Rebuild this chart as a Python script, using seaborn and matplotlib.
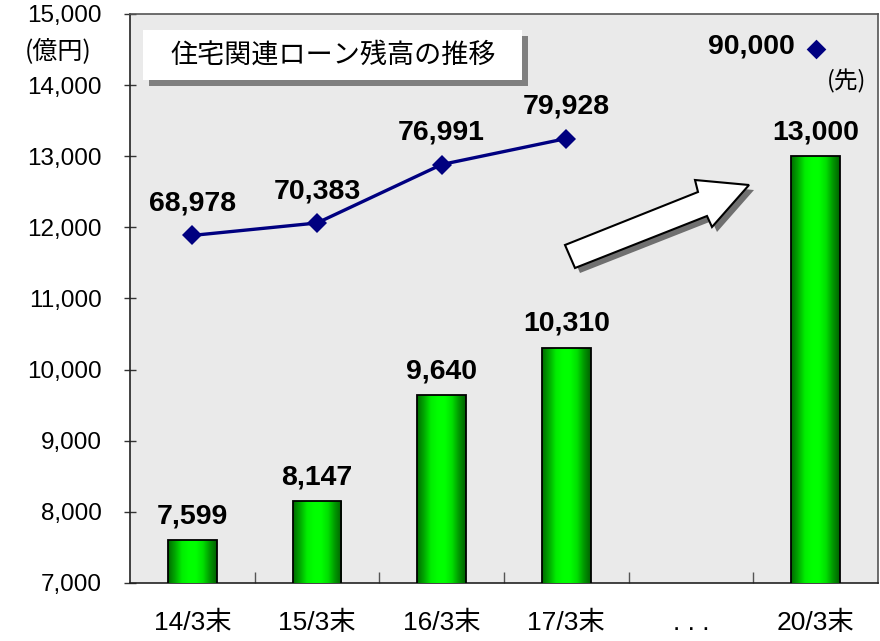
import numpy as np
import pandas as pd
import matplotlib
matplotlib.use("Agg")
import matplotlib.pyplot as plt
import seaborn as sns
from matplotlib.patches import Polygon, Rectangle
from matplotlib.colors import LinearSegmentedColormap

# --- data -------------------------------------------------------------
periods = ["14/3末", "15/3末", "16/3末", "17/3末", ". . .", "20/3末"]
balance = [7599, 8147, 9640, 10310, np.nan, 13000]        # 住宅関連ローン残高（億円）
loans = [68978, 70383, 76991, 79928, np.nan, 90000]        # 件数（右側の非表示スケール）
y_ticks = [7000, 8000, 9000, 10000, 11000, 12000, 13000, 14000, 15000]
title_text = "住宅関連ローン残高の推移"
unit_text = "(億円)"
forecast_text = "(先)"

# --- style ------------------------------------------------------------
sns.set_theme(style="white")
plt.rcParams["font.family"] = ["Liberation Sans", "Noto Sans CJK JP"]
plt.rcParams["text.color"] = "black"
plt.rcParams["xtick.color"] = "black"
plt.rcParams["ytick.color"] = "black"

W, H = 880, 641
fig = plt.figure(figsize=(W / 100, H / 100), dpi=100)
ax = fig.add_axes([130 / W, 58 / H, 748 / W, 569 / H])
ax.set_facecolor("#eaeaea")

df = pd.DataFrame({"period": periods, "pos": range(len(periods)),
                   "balance": balance, "loans": loans})

Y_MIN, Y_MAX = 7000, 15000

# bars
sns.barplot(data=df, x="period", y="balance", order=periods, width=0.39,
            color="#00ff00", edgecolor="black", linewidth=1.3, ax=ax,
            zorder=3)

# horizontal green shading inside every bar
green = LinearSegmentedColormap.from_list(
    "bar_green",
    ["#006a00", "#00a800", "#00ee00", "#00ff00", "#00ff00", "#00e000",
     "#009800", "#006000"])
grad = np.linspace(0, 1, 256).reshape(1, -1)
for patch in list(ax.patches):
    h = patch.get_height()
    if not np.isfinite(h) or h == 0:
        continue
    x0, y0, w = patch.get_x(), patch.get_y(), patch.get_width()
    top = y0 + h
    im = ax.imshow(grad, extent=[x0, x0 + w, max(y0, Y_MIN), top],
                   cmap=green, aspect="auto", zorder=2.9,
                   interpolation="bilinear")
    im.set_clip_path(patch)
    patch.set_facecolor("none")

ax.set_xlim(-0.5, len(periods) - 0.5)
ax.set_ylim(Y_MIN, Y_MAX)
ax.set_yticks(y_ticks)
ax.set_yticklabels([f"{v:,}" for v in y_ticks], fontsize=17.5)
ax.set_xticks(range(len(periods)))
ax.set_xticklabels(periods, fontsize=19)
ax.set_xticks(np.arange(0.5, len(periods) - 0.5, 1.0), minor=True)
ax.set_xlabel("")
ax.set_ylabel("")
ax.tick_params(axis="y", direction="inout", length=9, width=1,
               color="#333333", pad=16, left=True)
ax.tick_params(axis="x", which="major", length=0, pad=20)
ax.tick_params(axis="x", which="minor", direction="in", length=8,
               width=1, color="#555555", bottom=True)
for side, sp in ax.spines.items():
    sp.set_visible(True)
    sp.set_linewidth(1.2)
    sp.set_color("#222222" if side in ("left", "bottom") else "#555555")

# bar value labels
for i, v in enumerate(balance):
    if np.isfinite(v):
        ax.annotate(f"{v:,}", (i, v), xytext=(0, 17),
                    textcoords="offset points", ha="center", va="center",
                    fontsize=20.5, fontweight="bold", zorder=5)

# loan count line on a hidden secondary scale
ax2 = ax.twinx()
ax2.set_ylim(29700, 94000)
line_df = df.iloc[:4]
sns.lineplot(data=line_df, x="pos", y="loans", color="#000080",
             linewidth=2.4, marker="D", markersize=10, markeredgewidth=0,
             ax=ax2, zorder=4)
sns.scatterplot(data=df.iloc[5:], x="pos", y="loans", color="#000080",
                marker="D", s=100, linewidth=0, ax=ax2, zorder=4)
ax2.set_xlim(-0.5, len(periods) - 0.5)
ax2.set_yticks([])
ax2.set_xlabel("")
ax2.set_ylabel("")
for sp in ax2.spines.values():
    sp.set_visible(False)

for i, v in enumerate(loans[:4]):
    ax2.annotate(f"{v:,}", (i, v), xytext=(0, 23),
                 textcoords="offset points", ha="center", va="center",
                 fontsize=20.5, fontweight="bold")
ax2.annotate(f"{loans[5]:,}", (5, loans[5]), xytext=(-15, 2),
             textcoords="offset points", ha="right", va="center",
             fontsize=20.5, fontweight="bold")
ax2.annotate(forecast_text, (5, loans[5]), xytext=(22, -23),
             textcoords="offset points", ha="center", va="center",
             fontsize=17, family=["Noto Sans CJK JP"])


# --- decorations in pixel space --------------------------------------
def fx(px):
    return px / W


def fy(py):
    return 1 - py / H


# title box with drop shadow
fig.patches.append(Rectangle((fx(149), fy(86)), fx(528) - fx(149),
                             fy(36) - fy(86), transform=fig.transFigure,
                             facecolor="#808080", edgecolor="none",
                             zorder=6))
fig.patches.append(Rectangle((fx(143), fy(80)), fx(522) - fx(143),
                             fy(30) - fy(80), transform=fig.transFigure,
                             facecolor="white", edgecolor="none", zorder=7))
fig.text(fx(333), fy(55), title_text, ha="center", va="center",
         fontsize=19.5, family=["Noto Sans CJK JP"], zorder=8)

# unit label
fig.text(fx(58), fy(52), unit_text, ha="center", va="center",
         fontsize=18, family=["Noto Sans CJK JP"])

# growth arrow with shadow
arrow_px = [(565, 245), (698, 192), (695, 180), (749, 185), (712, 227),
            (707, 216), (575, 268)]
shadow = [(fx(x + 5), fy(y + 5)) for x, y in arrow_px]
body = [(fx(x), fy(y)) for x, y in arrow_px]
fig.patches.append(Polygon(shadow, closed=True, transform=fig.transFigure,
                           facecolor="#707070", edgecolor="none", zorder=6))
fig.patches.append(Polygon(body, closed=True, transform=fig.transFigure,
                           facecolor="white", edgecolor="black",
                           linewidth=1.5, zorder=7))

fig.savefig("out.png", dpi=100, facecolor="white")
